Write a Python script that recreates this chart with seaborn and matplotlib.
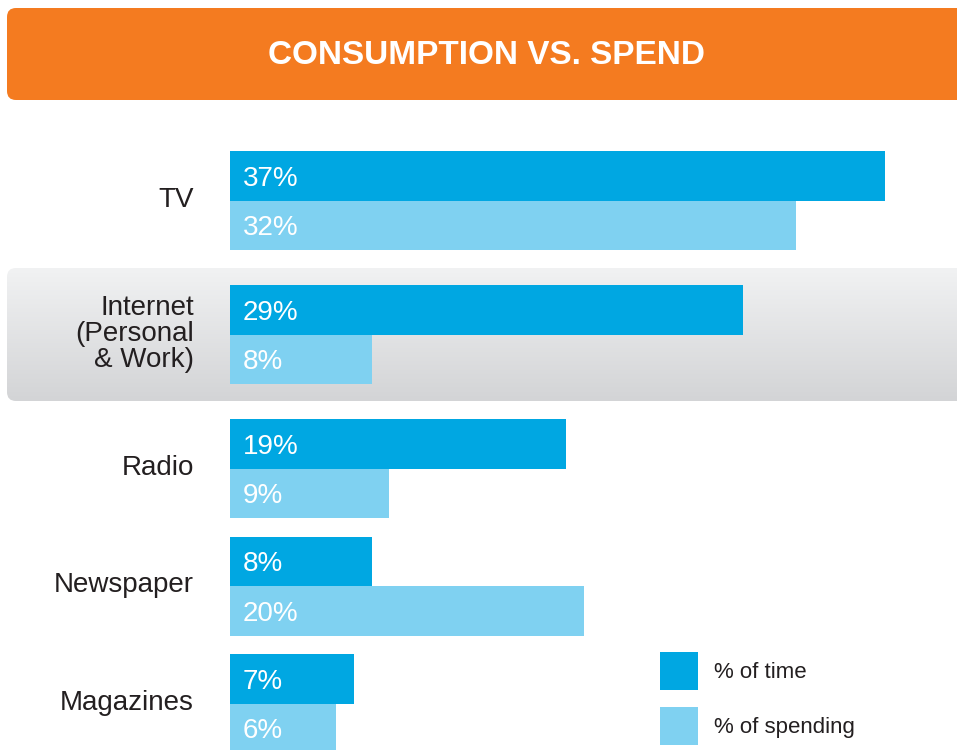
import matplotlib
matplotlib.use("Agg")
import matplotlib.pyplot as plt
from matplotlib.patches import FancyBboxPatch, Patch
from matplotlib.colors import LinearSegmentedColormap
from matplotlib.transforms import offset_copy
import numpy as np
import pandas as pd
import seaborn as sns

# ---- data ----
categories = ["TV", "Internet\n(Personal\n& Work)", "Radio", "Newspaper", "Magazines"]
time_share = [37, 29, 19, 8, 7]
spend_share = [32, 8, 9, 20, 6]
series = ["% of time", "% of spending"]
title = "CONSUMPTION VS. SPEND"

# ---- layout (pixels) ----
W, H = 957, 750
row_centre = [200.5, 334.5, 468.5, 586.0, 703.5]   # vertical centre of each category row
label_lift = 3.5                                   # category names sit slightly above row centre
bar_left = 230                                     # x where the bars start
px_per_pct = (885 - bar_left) / 37.0

DARK = "#00a7e2"
LIGHT = "#7fd1f1"
ORANGE = "#f47b20"
INK = "#231f20"

sns.set_style("white")
plt.rcParams["font.family"] = ["Liberation Sans", "DejaVu Sans"]

fig = plt.figure(figsize=(W / 100, H / 100), dpi=100)

# background layer: title banner and highlighted row
bg = fig.add_axes([0, 0, 1, 1], zorder=0)
bg.axis("off")

banner = FancyBboxPatch((7, 8), W + 20 - 7, 92,
                        boxstyle="round,pad=0,rounding_size=9",
                        fc=ORANGE, ec="none")
bg.add_patch(banner)
bg.text(487, 64, title, color="white", fontsize=24, fontweight="bold",
        ha="center", va="baseline")

band = FancyBboxPatch((7, 268), W + 20 - 7, 133,
                      boxstyle="round,pad=0,rounding_size=9",
                      fc="none", ec="none")
bg.add_patch(band)
grad = np.linspace(0, 1, 256).reshape(-1, 1)
band_cmap = LinearSegmentedColormap.from_list("band", ["#f1f2f3", "#d3d4d6"])
im = bg.imshow(grad, extent=(7, W + 20, 401, 268), cmap=band_cmap,
               aspect="auto", interpolation="bilinear")
im.set_clip_path(band)
bg.set_xlim(0, W)
bg.set_ylim(H, 0)

# bar layer
ax = fig.add_axes([bar_left / W, 0, (W - bar_left) / W, 1], zorder=1)
ax.patch.set_alpha(0)

df = pd.DataFrame({
    "row": row_centre * 2,
    "series": [series[0]] * len(categories) + [series[1]] * len(categories),
    "share": time_share + spend_share,
})

sns.barplot(data=df, x="share", y="row", hue="series", hue_order=series,
            orient="h", native_scale=True, palette=[DARK, LIGHT],
            saturation=1, width=99 / 117.5, errorbar=None, legend=False,
            linewidth=0, ax=ax)

ax.set_xlim(0, (W - bar_left) / px_per_pct)
ax.set_ylim(H, 0)
ax.set_xticks([])
ax.set_yticks([c - label_lift for c in row_centre], categories)
ax.tick_params(axis="y", length=0, pad=26, labelsize=20, labelcolor=INK)
for lbl in ax.get_yticklabels():
    lbl.set_linespacing(1.0)
ax.set_xlabel("")
ax.set_ylabel("")
for s in ax.spines.values():
    s.set_visible(False)

# value labels inside the left end of each bar
label_tf = offset_copy(ax.transData, fig=fig, x=13, y=0, units="dots")
for cont in ax.containers:
    for bar in cont:
        yc = bar.get_y() + bar.get_height() / 2
        ax.text(0, yc + 10, f"{bar.get_width():.0f}%", transform=label_tf,
                color="white", fontsize=20, ha="left", va="baseline")

fs = 16 * 100 / 72.0
handles = [Patch(fc=DARK, ec="none", label=series[0]),
           Patch(fc=LIGHT, ec="none", label=series[1])]
leg = ax.legend(handles=handles, loc="upper left",
                bbox_to_anchor=(660 / W, 1 - 652 / H),
                bbox_transform=fig.transFigure, frameon=False, fontsize=16,
                handlelength=38 / fs, handleheight=2.254,
                handletextpad=16 / fs, labelspacing=17 / fs,
                borderpad=0, borderaxespad=0)
for t in leg.get_texts():
    t.set_color(INK)

fig.savefig("out.png", dpi=100)
